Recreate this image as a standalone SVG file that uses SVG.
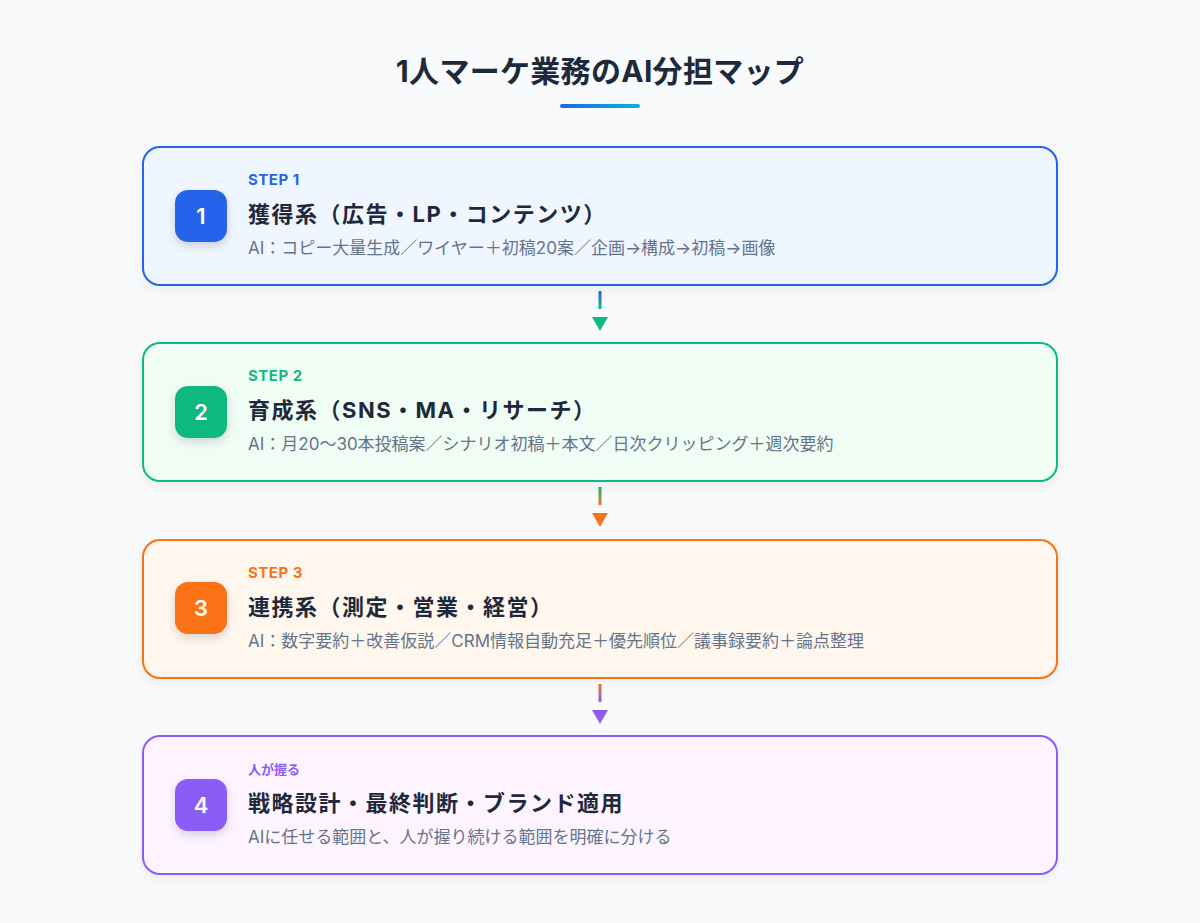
<svg xmlns="http://www.w3.org/2000/svg" width="1200" height="923" viewBox="0 0 1200 923">
<defs>
<style>
text{font-family:Inter,"Noto Sans CJK JP","Noto Sans",sans-serif}
.title{font-size:30px;font-weight:700;fill:#1e293b;letter-spacing:0.3px}
.step{font-size:15px;font-weight:700;letter-spacing:0.5px}
.head{font-size:22px;font-weight:700;fill:#1e293b;letter-spacing:1.5px}
.desc{font-size:17px;fill:#64748b}
.num{font-size:22px;font-weight:600;fill:#fff}
.card{stroke-width:2}
</style>
<linearGradient id="bar" x1="0" y1="0" x2="1" y2="0"><stop offset="0" stop-color="#2563eb"/><stop offset="1" stop-color="#06b6d4"/></linearGradient>
<linearGradient id="g1" x1="0" y1="0" x2="0" y2="1"><stop offset="0" stop-color="#2563eb"/><stop offset="1" stop-color="#10b981"/></linearGradient>
<linearGradient id="g2" x1="0" y1="0" x2="0" y2="1"><stop offset="0" stop-color="#10b981"/><stop offset="1" stop-color="#f97316"/></linearGradient>
<linearGradient id="g3" x1="0" y1="0" x2="0" y2="1"><stop offset="0" stop-color="#f97316"/><stop offset="1" stop-color="#8b5cf6"/></linearGradient>
<filter id="sh" x="-10%" y="-20%" width="120%" height="150%"><feDropShadow dx="0" dy="4" stdDeviation="6" flood-color="#0f172a" flood-opacity="0.06"/></filter>
<filter id="bsh" x="-40%" y="-40%" width="180%" height="190%"><feDropShadow dx="0" dy="4" stdDeviation="4" flood-color="#0f172a" flood-opacity="0.15"/></filter>
</defs>
<rect width="1200" height="923" fill="#f8fafc"/>
<text class="title" x="600" y="82" text-anchor="middle">1人マーケ業務のAI分担マップ</text>
<rect x="560" y="104" width="80" height="4" rx="2" fill="url(#bar)"/>

<g id="connectors">
<rect x="598.5" y="291" width="3" height="18" fill="url(#g1)"/>
<polygon points="592,317 608,317 600,331" fill="#10b981"/>
<rect x="598.5" y="487" width="3" height="18" fill="url(#g2)"/>
<polygon points="592,513 608,513 600,527" fill="#f97316"/>
<rect x="598.5" y="684" width="3" height="18" fill="url(#g3)"/>
<polygon points="592,710 608,710 600,724" fill="#8b5cf6"/>
</g>

<g id="step1">
<rect class="card" x="143" y="147" width="914" height="138" rx="17" fill="#eff6ff" stroke="#2563eb" filter="url(#sh)"/>
<rect x="175" y="190" width="52" height="52" rx="13" fill="#2563eb" filter="url(#bsh)"/>
<text class="num" x="201" y="224" text-anchor="middle">1</text>
<text class="step" x="248" y="185" fill="#2563eb">STEP 1</text>
<text class="head" x="248" y="222">獲得系（広告・LP・コンテンツ）</text>
<text class="desc" x="248" y="254">AI：コピー大量生成／ワイヤー＋初稿20案／企画→構成→初稿→画像</text>
</g>

<g id="step2">
<rect class="card" x="143" y="343" width="914" height="138" rx="17" fill="#f0fdf4" stroke="#10b981" filter="url(#sh)"/>
<rect x="175" y="386" width="52" height="52" rx="13" fill="#10b981" filter="url(#bsh)"/>
<text class="num" x="201" y="420" text-anchor="middle">2</text>
<text class="step" x="248" y="381" fill="#10b981">STEP 2</text>
<text class="head" x="248" y="418">育成系（SNS・MA・リサーチ）</text>
<text class="desc" x="248" y="450">AI：月20〜30本投稿案／シナリオ初稿＋本文／日次クリッピング＋週次要約</text>
</g>

<g id="step3">
<rect class="card" x="143" y="540" width="914" height="138" rx="17" fill="#fff7ed" stroke="#f97316" filter="url(#sh)"/>
<rect x="175" y="582" width="52" height="52" rx="13" fill="#f97316" filter="url(#bsh)"/>
<text class="num" x="201" y="616" text-anchor="middle">3</text>
<text class="step" x="248" y="578" fill="#f97316">STEP 3</text>
<text class="head" x="248" y="615">連携系（測定・営業・経営）</text>
<text class="desc" x="248" y="647">AI：数字要約＋改善仮説／CRM情報自動充足＋優先順位／議事録要約＋論点整理</text>
</g>

<g id="step4">
<rect class="card" x="143" y="736" width="914" height="138" rx="17" fill="#fdf4ff" stroke="#8b5cf6" filter="url(#sh)"/>
<rect x="175" y="779" width="52" height="52" rx="13" fill="#8b5cf6" filter="url(#bsh)"/>
<text class="num" x="201" y="813" text-anchor="middle">4</text>
<text class="step" x="248" y="774" fill="#8b5cf6" style="font-size:13px;letter-spacing:0">人が握る</text>
<text class="head" x="248" y="811">戦略設計・最終判断・ブランド適用</text>
<text class="desc" x="248" y="843">AIに任せる範囲と、人が握り続ける範囲を明確に分ける</text>
</g>
</svg>
